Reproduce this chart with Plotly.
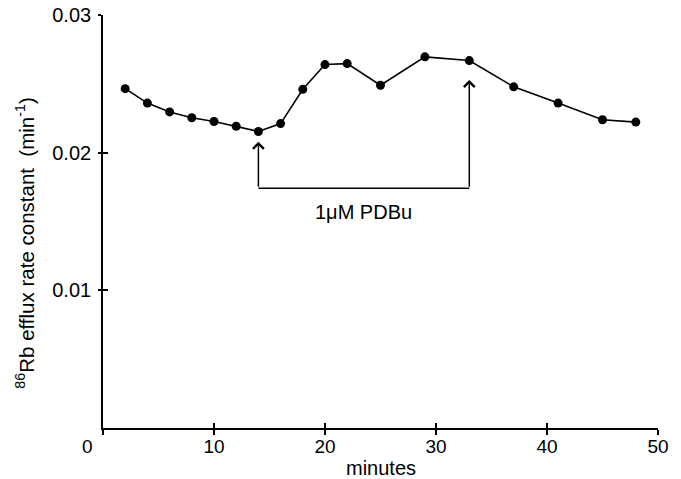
import plotly.graph_objects as go

minutes = [2, 4, 6, 8, 10, 12, 14, 16, 18, 20, 22, 25, 29, 33, 37, 41, 45, 48]
efflux = [0.02465, 0.02360, 0.02296, 0.02254, 0.02226, 0.02192, 0.02154, 0.02211,
          0.02460, 0.02640, 0.02647, 0.02490, 0.02696, 0.02669, 0.02478, 0.02360,
          0.02239, 0.02222]

x_ticks = [0, 10, 20, 30, 40, 50]
y_ticks = [0.01, 0.02, 0.03]
y_tick_labels = ["0.01", "0.02", "0.03"]

pdbu_start, pdbu_end = 14, 33
bracket_y = 0.01742
tip_start = 0.0208
tip_end = 0.02528
pdbu_label = "1μM PDBu"
pdbu_label_y = 0.01568

FONT = "Liberation Sans, Arial, Helvetica, sans-serif"
W, H = 681, 479
ml, mr, mt, mb = 102.5, 23, 15, 51.3

fig = go.Figure()
fig.add_trace(go.Scatter(
    x=minutes, y=efflux, mode="lines+markers",
    line=dict(color="black", width=1.6),
    marker=dict(color="black", size=9),
    showlegend=False, hoverinfo="skip"))
# invisible trace on overlay axes (for inward half of the crossing ticks)
fig.add_trace(go.Scatter(x=[0], y=[0], xaxis="x2", yaxis="y2", mode="markers",
                         marker=dict(opacity=0), showlegend=False, hoverinfo="skip"))

ax_common = dict(showgrid=False, zeroline=False)
fig.update_layout(
    width=W, height=H,
    margin=dict(l=ml, r=mr, t=mt, b=mb, pad=0),
    paper_bgcolor="white", plot_bgcolor="white",
    font=dict(family=FONT, color="black", size=19),
    xaxis=dict(range=[0, 50], tickvals=x_ticks, ticktext=[""] + [str(v) for v in x_ticks[1:]],
               ticks="outside", ticklen=5, tickwidth=1.5, tickcolor="black",
               showline=True, linecolor="black", linewidth=2,
               ticklabelstandoff=-5, ticklabeloverflow="allow",
               tickfont=dict(size=19), automargin=False, **ax_common),
    yaxis=dict(range=[0, 0.03], tickvals=y_ticks, ticktext=y_tick_labels,
               ticks="outside", ticklen=3, tickwidth=1.5, tickcolor="black",
               showline=True, linecolor="black", linewidth=1.6,
               ticklabelstandoff=3, ticklabeloverflow="allow", automargin=False,
               tickfont=dict(size=20), **ax_common),
    xaxis2=dict(range=[0, 50], tickvals=x_ticks, overlaying="x", anchor="y", side="bottom",
                ticks="inside", ticklen=5, tickwidth=1.5, tickcolor="black",
                showticklabels=False, showline=False, **ax_common),
    yaxis2=dict(range=[0, 0.03], tickvals=y_ticks, overlaying="y", anchor="x", side="left",
                ticks="inside", ticklen=5, tickwidth=1.5, tickcolor="black",
                showticklabels=False, showline=False, **ax_common),
)

plot_w = W - ml - mr
plot_h = H - mt - mb
bottom_px = H - mb

annotations = [
    # "0" tick label offset left, as in reference
    dict(text="0", x=0, y=0, xref="x", yref="y", showarrow=False,
         xshift=-16, yshift=-18, font=dict(size=19)),
    dict(text="minutes", x=25, xref="x", y=-(468 - bottom_px) / plot_h, yref="paper",
         showarrow=False, yanchor="middle", font=dict(size=20)),
    dict(text="<sup>86</sup>Rb efflux rate constant  (min<sup>-1</sup>)",
         x=-(102.5 - 25) / plot_w, xref="paper", y=(bottom_px - 243) / plot_h, yref="paper",
         textangle=-90, showarrow=False, xanchor="center", yanchor="middle",
         font=dict(size=20.5)),
    dict(text=pdbu_label, x=(pdbu_start + pdbu_end) / 2, y=pdbu_label_y, xref="x", yref="y",
         showarrow=False, font=dict(size=20)),
    dict(x=pdbu_start, y=tip_start, ax=pdbu_start, ay=bracket_y, xref="x", yref="y",
         axref="x", ayref="y", showarrow=True, arrowhead=4, arrowsize=1.4,
         arrowwidth=1.5, arrowcolor="black", text=""),
    dict(x=pdbu_end, y=tip_end, ax=pdbu_end, ay=bracket_y, xref="x", yref="y",
         axref="x", ayref="y", showarrow=True, arrowhead=4, arrowsize=1.4,
         arrowwidth=1.5, arrowcolor="black", text=""),
]
fig.update_layout(annotations=annotations)
fig.add_shape(type="line", x0=pdbu_start, x1=pdbu_end, y0=bracket_y, y1=bracket_y,
              xref="x", yref="y", line=dict(color="black", width=1.5))

# remove the page's default 8px body margin so the figure sits at the window's corner
fig.write_html("out.html", config={"displayModeBar": False},
               post_script="document.body.style.margin='0px';")
